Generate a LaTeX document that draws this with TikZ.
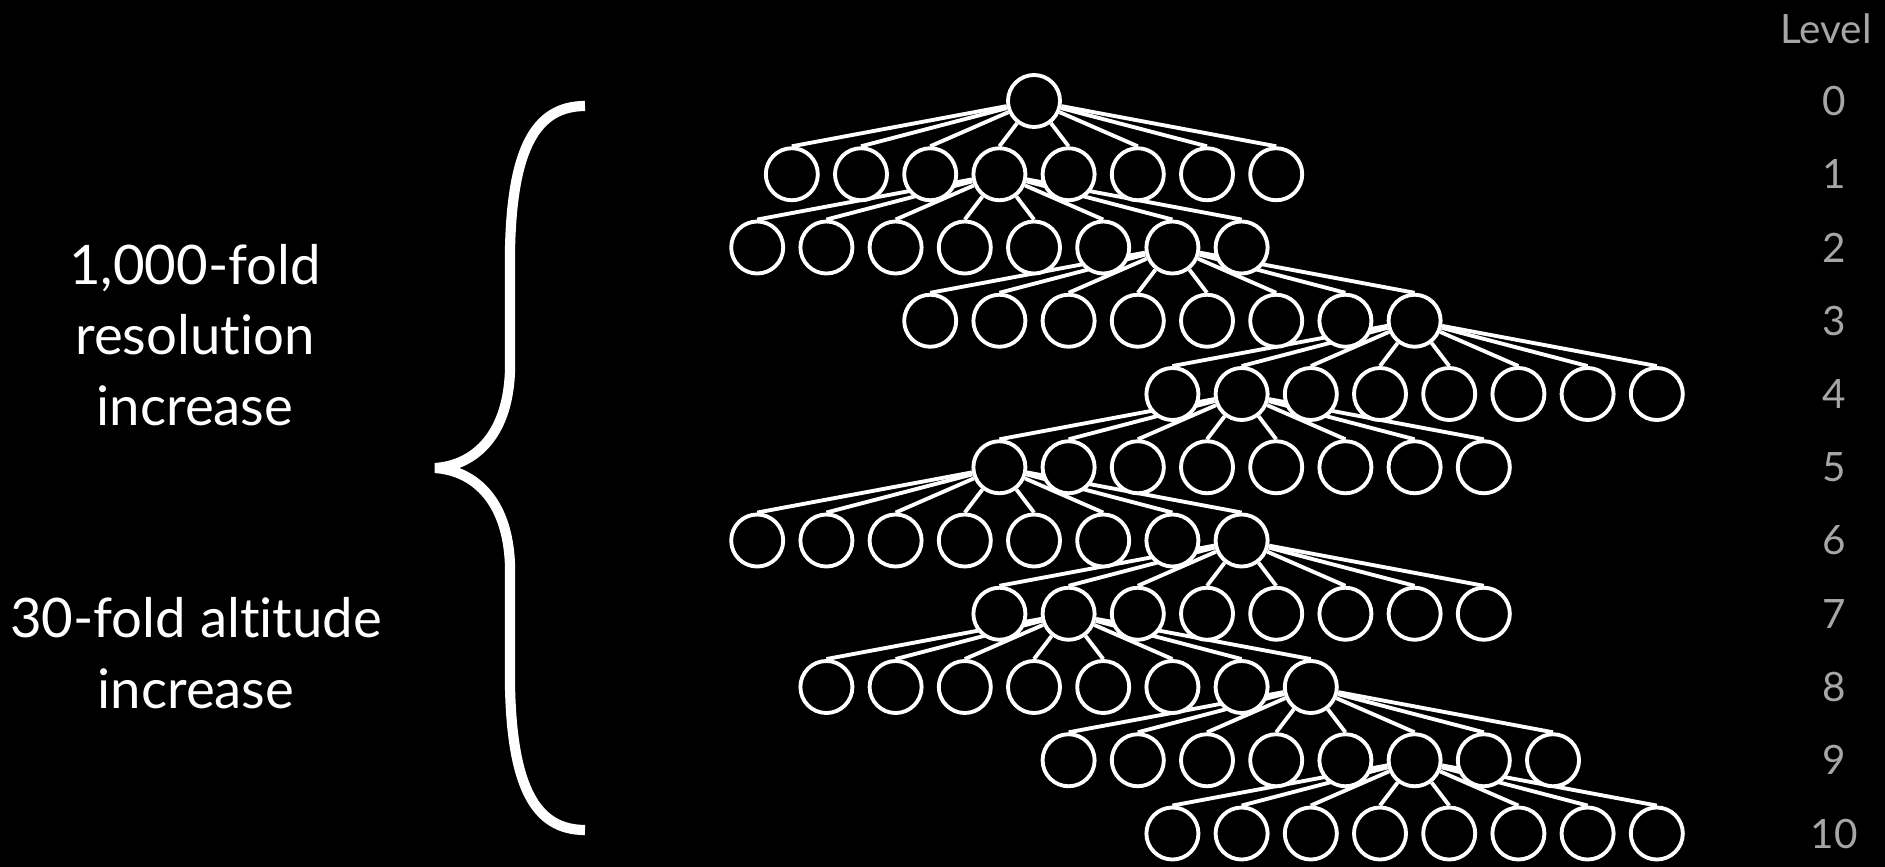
\documentclass[tikz,border=0pt]{standalone}
\usepackage{fontspec}
\setmainfont{Lato}[Ligatures=NoCommon]
\definecolor{levelgrey}{HTML}{A6A6A6}

\pgfdeclarelayer{back}
\pgfdeclarelayer{links}
\pgfsetlayers{back,links,main}

\tikzset{
    cell/.style={draw=white, circle, fill=black, line width=1.1pt,
        minimum size=0.52cm, inner sep=0pt},
    link/.style={draw=white, line width=1.1pt},
    lvltag/.style={text=levelgrey, font=\fontsize{11.5}{14}\selectfont},
    note/.style={text=white, align=center, font=\fontsize{15.5}{20}\selectfont}
}

\begin{document}
\begin{tikzpicture}[x=0.01cm, y=-0.01cm]
    \begin{pgfonlayer}{back}
        \fill[black] (0,0) rectangle (1885,867);
    \end{pgfonlayer}
    \useasboundingbox (0,0) rectangle (1885,867);

    % the tree, one row of eight per level
    \node[cell] (n-0-0) at (1034,101) {};
    \foreach \lvl/\ctr in {1/0, 2/-0.5, 3/2, 4/5.5, 5/3, 6/-0.5, 7/3, 8/0.5, 9/4, 10/5.5} {
        \foreach \k in {0,...,7} {
            \node[cell] (n-\lvl-\k) at ({1034+(\ctr+\k-3.5)*69.2}, {101+\lvl*73.25}) {};
        }
    }

    \begin{pgfonlayer}{links}
        \foreach \lvl/\up in {1/0, 2/3, 3/6, 4/7, 5/1, 6/0, 7/7, 8/1, 9/7, 10/5} {
            \pgfmathtruncatemacro\prev{\lvl-1}
            \foreach \k in {0,...,7} {
                \draw[link] (n-\prev-\up) -- (n-\lvl-\k.north);
            }
        }
    \end{pgfonlayer}

    % level numbers
    \node[lvltag] (head) at (1826,29) {Level};
    \foreach \lvl in {0,...,10} {
        \node[lvltag] (tag-\lvl) at (1834, {101+\lvl*73.25}) {\lvl};
    }

    % brace and notes
    \draw[white, line width=2.9pt]
        (585,106) .. controls (535,106) and (512,150) .. (510,250)
        -- (510,370)
        .. controls (508,440) and (470,466) .. (435,468)
        .. controls (470,470) and (508,496) .. (510,566)
        -- (510,686)
        .. controls (512,786) and (535,830) .. (585,830);

    \node[note] (res) at (195,335) {1,000-fold\\resolution\\increase};
    \node[note] (alt) at (196,653) {30-fold altitude\\increase};
\end{tikzpicture}
\end{document}
